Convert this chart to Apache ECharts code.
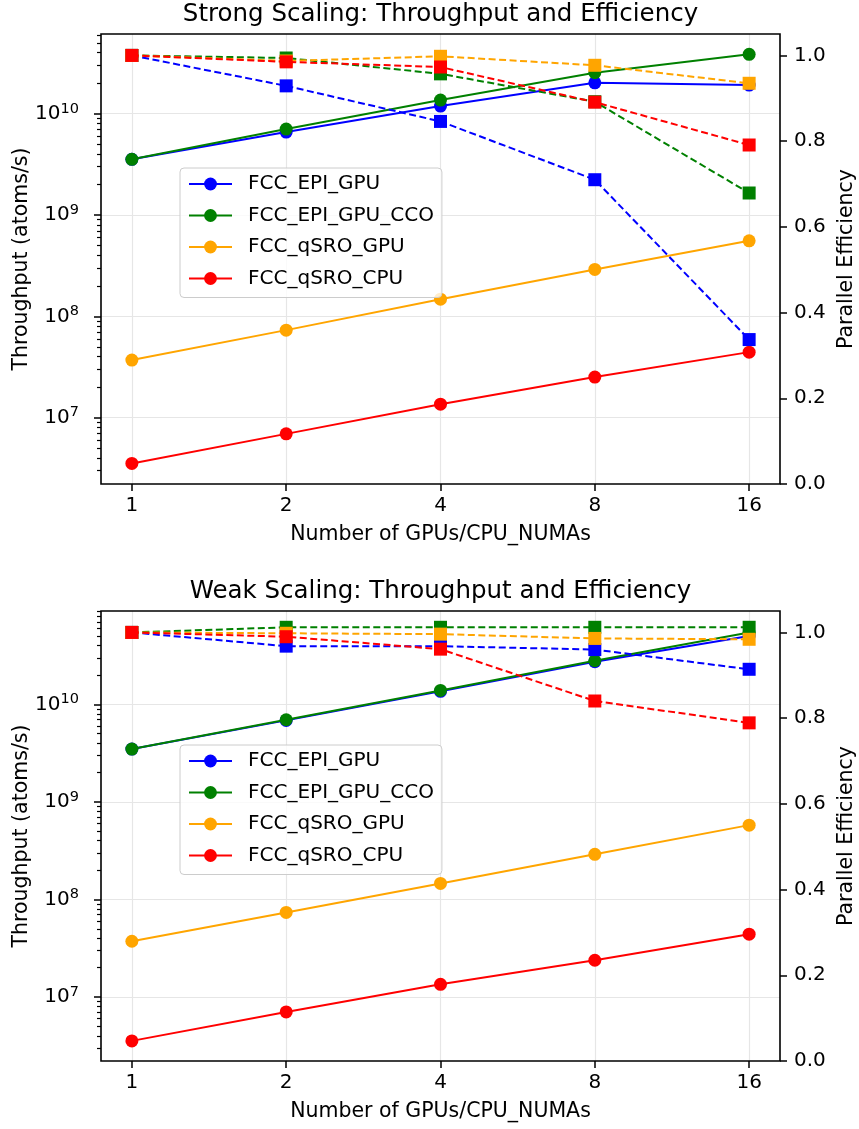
<!DOCTYPE html>
<html>
<head>
<meta charset="utf-8">
<script src="https://cdn.jsdelivr.net/npm/echarts@6/dist/echarts.min.js"></script>
<style>
  html, body { margin: 0; padding: 0; background: #fff; }
  #chart { width: 859px; height: 1129px; }
</style>
</head>
<body>
<div id="chart"></div>
<script>
// x values (GPUs / CPU NUMA domains)
const N = [1, 2, 4, 8, 16];
const NAMES = ["FCC_EPI_GPU", "FCC_EPI_GPU_CCO", "FCC_qSRO_GPU", "FCC_qSRO_CPU"];
const COLORS = ["#0000ff", "#008000", "#ffa500", "#ff0000"];

// strong scaling: throughput (atoms/s)
const strongEpiGpu = [3.55e9, 6.6e9, 1.19e10, 2.02e10, 1.92e10];
const strongEpiGpuCco = [3.55e9, 7.06e9, 1.365e10, 2.54e10, 3.86e10];
const strongQsroGpu = [3.71e7, 7.32e7, 1.48e8, 2.91e8, 5.57e8];
const strongQsroCpu = [3.54e6, 6.93e6, 1.36e7, 2.52e7, 4.44e7];
// strong scaling: parallel efficiency
const strongEffEpiGpu = [1.0, 0.929, 0.846, 0.71, 0.337];
const strongEffEpiGpuCco = [1.0, 0.994, 0.957, 0.892, 0.679];
const strongEffQsroGpu = [1.0, 0.987, 0.998, 0.977, 0.935];
const strongEffQsroCpu = [1.0, 0.985, 0.973, 0.891, 0.791];

// weak scaling: throughput (atoms/s)
const weakEpiGpu = [3.48e9, 6.85e9, 1.36e10, 2.74e10, 5.02e10];
const weakEpiGpuCco = [3.48e9, 6.95e9, 1.39e10, 2.8e10, 5.45e10];
const weakQsroGpu = [3.73e7, 7.36e7, 1.46e8, 2.9e8, 5.78e8];
const weakQsroCpu = [3.55e6, 7.03e6, 1.35e7, 2.38e7, 4.41e7];
// weak scaling: parallel efficiency
const weakEffEpiGpu = [1.0, 0.968, 0.968, 0.96, 0.914];
const weakEffEpiGpuCco = [1.0, 1.012, 1.012, 1.012, 1.012];
const weakEffQsroGpu = [1.0, 0.998, 0.996, 0.986, 0.984];
const weakEffQsroCpu = [1.0, 0.99, 0.961, 0.84, 0.789];

// tick labels
const MAJOR_TICKS = [1e7, 1e8, 1e9, 1e10];
const MINOR_TICKS = [];
for (let d = 6; d <= 10; d++) {
  for (let k = 2; k <= 9; k++) MINOR_TICKS.push(k * Math.pow(10, d));
}
const EFF_TICKS = [0, 0.2, 0.4, 0.6, 0.8, 1.0];

const FONT = "DejaVu Sans";
const GRID_LINE = { show: true, lineStyle: { color: "#e6e6e6", width: 1.2 } };
const TICK_LINE = { color: "#000", width: 1.5 };

const panels = [
  {
    title: "Strong Scaling: Throughput and Efficiency",
    titleTop: 2,
    top: 34,
    yMin: Math.pow(10, 6.346),
    yMax: Math.pow(10, 10.787),
    legendTop: 168,
    throughput: [strongEpiGpu, strongEpiGpuCco, strongQsroGpu, strongQsroCpu],
    efficiency: [strongEffEpiGpu, strongEffEpiGpuCco, strongEffQsroGpu, strongEffQsroCpu],
  },
  {
    title: "Weak Scaling: Throughput and Efficiency",
    titleTop: 579,
    top: 611,
    yMin: Math.pow(10, 6.344),
    yMax: Math.pow(10, 10.957),
    legendTop: 745,
    throughput: [weakEpiGpu, weakEpiGpuCco, weakQsroGpu, weakQsroCpu],
    efficiency: [weakEffEpiGpu, weakEffEpiGpuCco, weakEffQsroGpu, weakEffQsroCpu],
  },
];

const option = {
  animation: false,
  backgroundColor: "#fff",
  textStyle: { fontFamily: FONT },
  title: [],
  legend: [],
  grid: [],
  xAxis: [],
  yAxis: [],
  series: [],
};

panels.forEach((p, g) => {
  option.title.push({
    text: p.title,
    left: 440.5,
    top: p.titleTop,
    textAlign: "center",
    padding: 0,
    textStyle: { fontFamily: FONT, fontSize: 24.5, fontWeight: "normal", color: "#000" },
  });

  option.grid.push({
    left: 101,
    top: p.top,
    width: 679,
    height: 450,
    outerBoundsMode: "none",
    containLabel: false,
    show: true,
    borderColor: "#000",
    borderWidth: 1.6,
    backgroundColor: "transparent",
    z: 10,
  });

  option.xAxis.push({
    type: "log",
    logBase: 2,
    gridIndex: g,
    min: Math.pow(2, -0.2),
    max: Math.pow(2, 4.2),
    name: "Number of GPUs/CPU_NUMAs",
    nameLocation: "middle",
    nameGap: 40,
    nameMoveOverlap: false,
    nameTextStyle: { fontFamily: FONT, fontSize: 20.5, color: "#000" },
    axisLine: { show: false },
    axisTick: { customValues: N, length: 7, lineStyle: TICK_LINE },
    axisLabel: {
      customValues: N,
      margin: 12,
      fontSize: 20,
      color: "#000",
      formatter: (v) => String(Math.round(v)),
    },
    splitLine: GRID_LINE,
  });

  // left: throughput (log)
  option.yAxis.push({
    type: "log",
    logBase: 10,
    gridIndex: g,
    position: "left",
    min: p.yMin,
    max: p.yMax,
    name: "Throughput (atoms/s)",
    nameLocation: "middle",
    nameGap: 69,
    nameRotate: 90,
    nameMoveOverlap: false,
    nameTextStyle: { fontFamily: FONT, fontSize: 20.5, color: "#000" },
    axisLine: { show: false },
    axisTick: { customValues: MAJOR_TICKS, length: 7, lineStyle: TICK_LINE },
    axisLabel: {
      customValues: MAJOR_TICKS,
      margin: 22,
      color: "#000",
      fontSize: 20,
      formatter: (v) => "10{sup|" + Math.round(Math.log10(v)) + "}",
      rich: {
        sup: { fontSize: 14.5, verticalAlign: "top", padding: [0, 0, 10, 0] },
      },
    },
    splitLine: GRID_LINE,
  });
  // left: minor ticks only
  option.yAxis.push({
    type: "log",
    logBase: 10,
    gridIndex: g,
    position: "left",
    min: p.yMin,
    max: p.yMax,
    axisLine: { show: false },
    axisTick: { customValues: MINOR_TICKS, length: 4, lineStyle: { color: "#000", width: 1.2 } },
    axisLabel: { show: false },
    splitLine: { show: false },
  });
  // right: parallel efficiency
  option.yAxis.push({
    type: "value",
    gridIndex: g,
    position: "right",
    min: 0,
    max: 1.05,
    name: "Parallel Efficiency",
    nameLocation: "middle",
    nameGap: 56,
    nameRotate: 90,
    nameMoveOverlap: false,
    nameTextStyle: { fontFamily: FONT, fontSize: 20.5, color: "#000" },
    axisLine: { show: false },
    axisTick: { customValues: EFF_TICKS, length: 7, lineStyle: TICK_LINE },
    axisLabel: {
      customValues: EFF_TICKS,
      margin: 14,
      fontSize: 20,
      color: "#000",
      formatter: (v) => v.toFixed(1),
    },
    splitLine: { show: false },
  });

  const yLeft = g * 3;
  const yRight = g * 3 + 2;

  p.throughput.forEach((vals, i) => {
    option.series.push({
      type: "line",
      name: NAMES[i],
      xAxisIndex: g,
      yAxisIndex: yLeft,
      data: N.map((n, k) => [n, vals[k]]),
      symbol: "circle",
      symbolSize: 13,
      itemStyle: { color: COLORS[i] },
      lineStyle: { color: COLORS[i], width: 2 },
      emphasis: { disabled: true },
      z: 2 + i,
    });
  });
  p.efficiency.forEach((vals, i) => {
    option.series.push({
      type: "line",
      name: NAMES[i] + " efficiency",
      xAxisIndex: g,
      yAxisIndex: yRight,
      data: N.map((n, k) => [n, vals[k]]),
      symbol: "rect",
      symbolSize: 13,
      itemStyle: { color: COLORS[i] },
      lineStyle: { color: COLORS[i], width: 2, type: [7, 3.5] },
      emphasis: { disabled: true },
      z: 7 + i,
    });
  });

  option.legend.push({
    orient: "vertical",
    left: 180,
    top: p.legendTop,
    data: NAMES,
    selectedMode: false,
    itemWidth: 43,
    itemHeight: 16,
    itemGap: 9.5,
    padding: [5, 8, 8, 8],
    borderColor: "#cccccc",
    borderWidth: 1,
    borderRadius: 4,
    backgroundColor: "rgba(255,255,255,0.8)",
    textStyle: { fontFamily: FONT, fontSize: 20, color: "#000", lineHeight: 22, padding: [0, 0, 0, 11] },
    z: 20,
  });
});

const chart = echarts.init(document.getElementById("chart"), null, { renderer: "canvas" });
chart.setOption(option);
</script>
</body>
</html>
